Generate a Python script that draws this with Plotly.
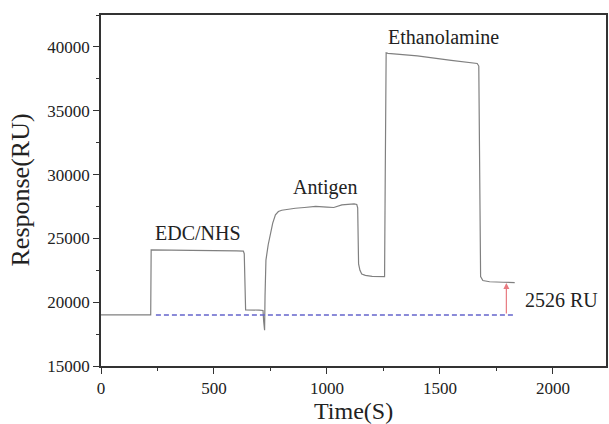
import plotly.graph_objects as go

# SPR sensorgram
time_s = [0, 220, 222, 240, 400, 600, 630, 634, 640, 700, 717, 720, 724, 726, 730,
          740, 750, 760, 772, 785, 800, 830, 860, 900, 950, 1000, 1030, 1066, 1100,
          1120, 1132, 1136, 1140, 1146, 1154, 1170, 1200, 1250, 1255, 1258, 1262,
          1270, 1400, 1550, 1650, 1665, 1672, 1676, 1680, 1690, 1720, 1780, 1831]
response_ru = [19000, 19000, 24100, 24100, 24060, 24020, 24000, 23800, 19400, 19380,
               19350, 18500, 17800, 20500, 23300, 24500, 25400, 26200, 26840, 27100,
               27200, 27300, 27360, 27420, 27500, 27450, 27420, 27620, 27650, 27700,
               27650, 27400, 23000, 22500, 22200, 22100, 22020, 22000, 22000, 30000,
               39540, 39500, 39300, 38950, 38750, 38700, 38500, 30000, 22000, 21700,
               21600, 21560, 21540]

baseline_x = [243, 1834]
baseline_y = [19000, 19000]

arrow_x = 1794
arrow_from = 19000
arrow_to = 21500

labels = ["EDC/NHS", "Antigen", "Ethanolamine", "2526 RU"]
label_x = [430, 990, 1515, 2040]
label_y = [25400, 29000, 40800, 20150]

x_ticks = [0, 500, 1000, 1500, 2000]
y_ticks = [15000, 20000, 25000, 30000, 35000, 40000]

FONT = "Liberation Serif"

fig = go.Figure()
fig.add_trace(go.Scatter(x=time_s, y=response_ru, mode="lines",
                         line=dict(color="#808080", width=1.2), showlegend=False))
fig.add_trace(go.Scatter(x=baseline_x, y=baseline_y, mode="lines",
                         line=dict(color="#6464cc", width=1.5, dash="5px,3px"),
                         showlegend=False))

fig.add_annotation(x=arrow_x, y=arrow_to, ax=arrow_x, ay=arrow_from,
                   xref="x", yref="y", axref="x", ayref="y",
                   showarrow=True, arrowhead=2, arrowsize=1, arrowwidth=1.2,
                   arrowcolor="#e87a80", text="")

for t, xx, yy in zip(labels, label_x, label_y):
    fig.add_annotation(x=xx, y=yy, xref="x", yref="y", text=t, showarrow=False,
                       font=dict(family=FONT, size=20, color="#222"))

fig.add_annotation(x=0, y=0.5, xref="paper", yref="paper", xanchor="center",
                   yanchor="middle", text="Response(RU)", textangle=-90, xshift=-81,
                   showarrow=False, font=dict(family=FONT, size=26, color="#222"))
fig.add_annotation(x=0.5, y=0, xref="paper", yref="paper", text="Time(S)",
                   showarrow=False, yshift=-45, yanchor="middle",
                   font=dict(family=FONT, size=24, color="#222"))

fig.update_xaxes(range=[0, 2235], tickvals=x_ticks, ticks="outside", ticklen=6,
                 tickwidth=1.3, tickcolor="#333", showline=True, linecolor="#333",
                 linewidth=1.5, mirror=True, showgrid=False, zeroline=False,
                 tickformat="d",
                 tickfont=dict(family=FONT, size=17, color="#222"),
                 minor=dict(ticks="outside", ticklen=3, dtick=250, tickcolor="#333"))
fig.update_yaxes(range=[15000, 42500], tickvals=y_ticks, ticks="outside", ticklen=6,
                 tickwidth=1.3, tickcolor="#333", showline=True, linecolor="#333",
                 linewidth=1.5, mirror=True, showgrid=False, zeroline=False,
                 tickformat="d",
                 tickfont=dict(family=FONT, size=17, color="#222"),
                 minor=dict(ticks="outside", ticklen=3, dtick=2500, tickcolor="#333"))

fig.update_layout(width=609, height=424, margin=dict(l=101, r=1, t=15, b=58),
                  paper_bgcolor="white", plot_bgcolor="white",
                  font=dict(family=FONT, color="#222"))

fig.write_html("out.html")
